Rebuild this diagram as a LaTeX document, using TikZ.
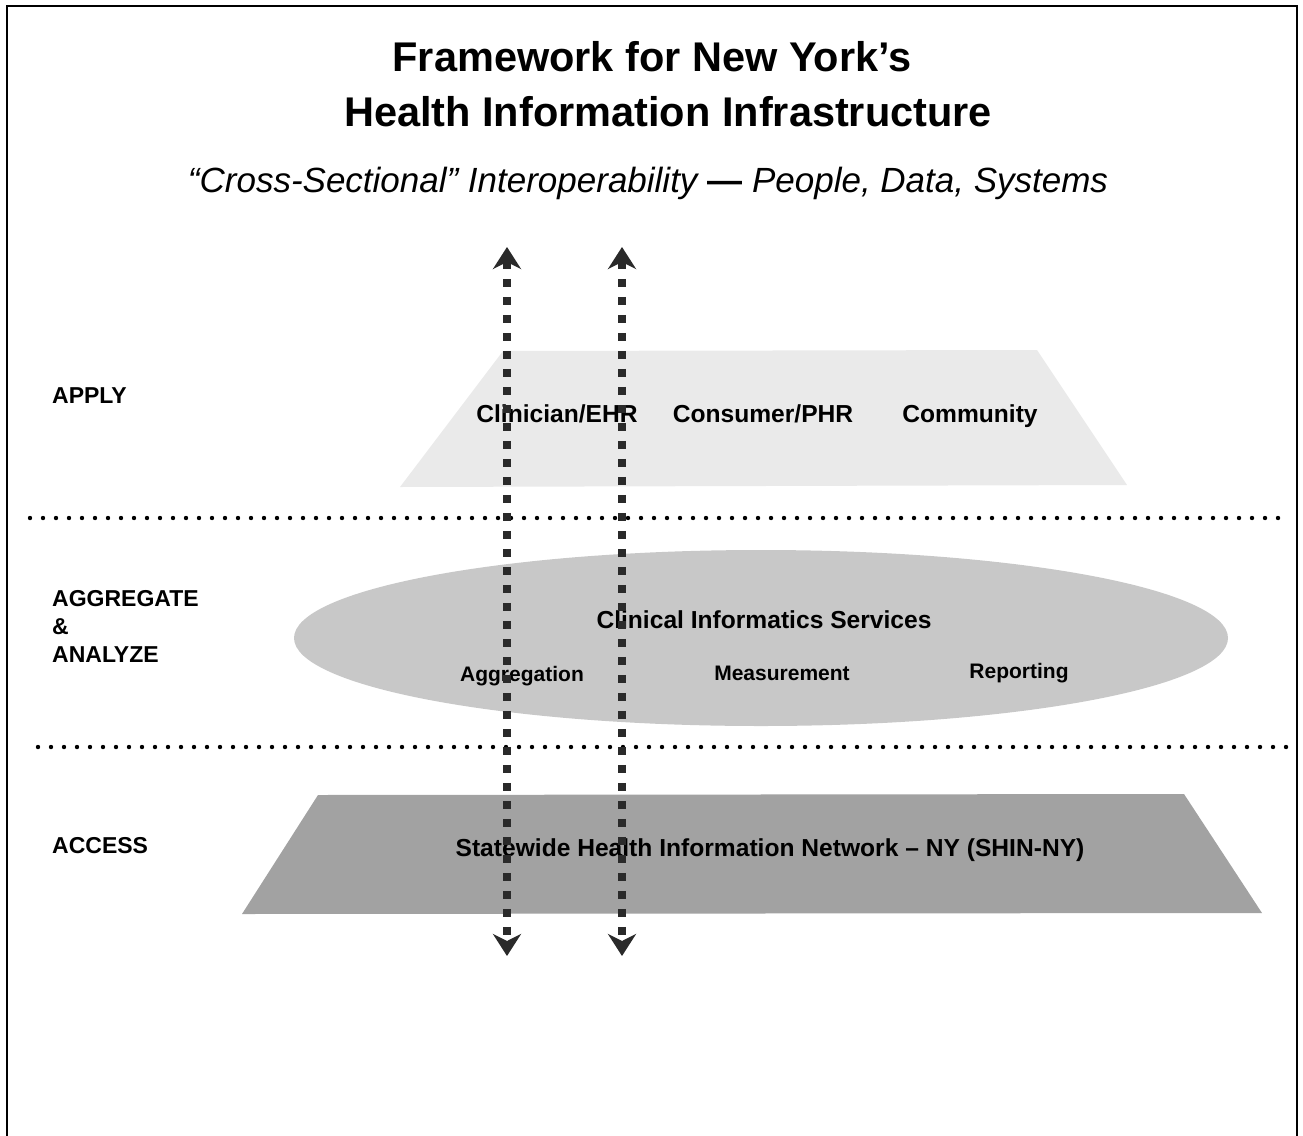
\documentclass[tikz,border=0pt]{standalone}
\usepackage{fontspec}
\setmainfont{Liberation Sans}
\usetikzlibrary{arrows.meta}
\definecolor{applyfill}{HTML}{EAEAEA}
\definecolor{aggfill}{HTML}{C8C8C8}
\definecolor{accessfill}{HTML}{A2A2A2}
\definecolor{arrowgray}{HTML}{2A2A2A}
\tikzset{
  frameline/.style={line width=2.5pt, black},
  layerline/.style={line width=4.4pt, line cap=round, dash pattern=on 0pt off 13pt, black},
  flow/.style={line width=8pt, arrowgray, dash pattern=on 8pt off 10pt,
    {Stealth[length=22pt,width=28pt,inset=7pt]}-{Stealth[length=22pt,width=28pt,inset=7pt]}},
  titletext/.style={inner sep=0pt, font=\fontsize{41.5}{48}\selectfont\bfseries},
  subtext/.style={inner sep=0pt, font=\fontsize{35}{42}\selectfont\itshape},
  layerlabel/.style={inner sep=0pt, anchor=west, align=left, font=\fontsize{23}{29}\selectfont\bfseries},
  itemtext/.style={inner sep=0pt, anchor=base, font=\fontsize{24.6}{30}\selectfont\bfseries},
  smalltext/.style={inner sep=0pt, anchor=base, font=\fontsize{21}{26}\selectfont\bfseries},
}
\begin{document}
\begin{tikzpicture}[x=1pt,y=-1pt]
\useasboundingbox (0,0) rectangle (1303,1135);

% outer frame (open at the bottom)
\draw[frameline] (7,1140) -- (7,6) -- (1297,6) -- (1297,1140);

% titles
\node[titletext] (t1) at (652,57) {Framework for New York’s};
\node[titletext] (t2) at (668,112) {Health Information Infrastructure};
\node[subtext] (sub) at (648,183) {“Cross-Sectional” Interoperability {\upshape\bfseries —} People, Data, Systems};

% layer separators
\draw[layerline] (30,518) -- (1287,518);
\draw[layerline] (38,747) -- (1295,747);

% APPLY layer
\fill[applyfill] (503,351) -- (1037,350) -- (1127,485) -- (400,487) -- cycle;
\node[layerlabel] (apply) at (52,396) {APPLY};
\node[itemtext] (ehr) at (557,422) {Clinician/EHR};
\node[itemtext] (phr) at (763,422) {Consumer/PHR};
\node[itemtext] (comm) at (970,422) {Community};

% AGGREGATE & ANALYZE layer
\fill[aggfill] (761,638) ellipse [x radius=467, y radius=88];
\node[layerlabel] (agg) at (52,626) {AGGREGATE\\[-1pt]\&\\[-1pt]ANALYZE};
\node[itemtext] (cis) at (764,628) {Clinical Informatics Services};
\node[smalltext] (aggr) at (522,681) {Aggregation};
\node[smalltext] (meas) at (782,680) {Measurement};
\node[smalltext] (rep) at (1019,678) {Reporting};

% ACCESS layer
\fill[accessfill] (318,795) -- (1184,794) -- (1262,913) -- (242,914) -- cycle;
\node[layerlabel] (access) at (52,846) {ACCESS};
\node[itemtext] (shin) at (770,856) {Statewide Health Information Network – NY (SHIN-NY)};

% cross-sectional flows
\coordinate (a1top) at (507,247);
\coordinate (a1bot) at (507,956);
\coordinate (a2top) at (622,247);
\coordinate (a2bot) at (622,956);
\draw[flow] (a1top) -- (a1bot);
\draw[flow] (a2top) -- (a2bot);
\end{tikzpicture}
\end{document}
